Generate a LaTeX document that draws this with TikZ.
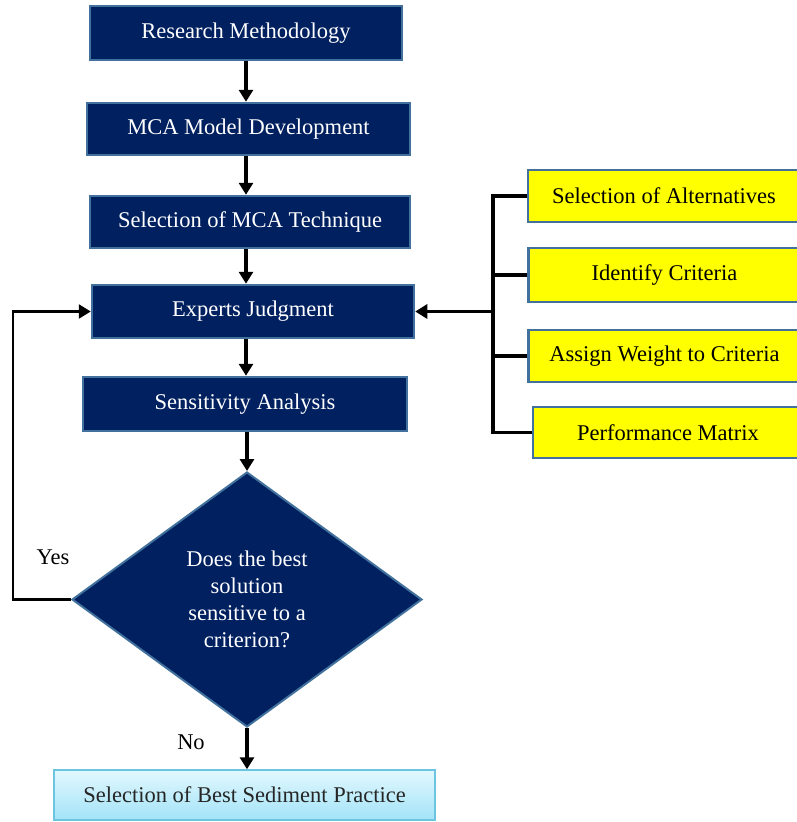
\documentclass[tikz,border=0pt]{standalone}
\usepackage{fontspec}
\setmainfont{Liberation Serif}
\usetikzlibrary{arrows.meta,shapes.geometric}
\definecolor{navy}{HTML}{002060}
\definecolor{edgeblue}{HTML}{41719C}
\definecolor{ltop}{HTML}{E2F8FE}
\definecolor{lbot}{HTML}{A3E3F8}
\definecolor{ledge}{HTML}{6BC5E0}
\definecolor{yel}{HTML}{FFFF00}
\begin{document}
\begin{tikzpicture}[x=1pt,y=-1pt,
  txt/.style={font=\fontsize{22.5}{27}\selectfont},
  navybox/.style={txt, draw=edgeblue, line width=2.5pt, fill=navy, text=white, inner sep=0pt},
  yelbox/.style={txt, draw=edgeblue, line width=2.5pt, fill=yel, text=black, inner sep=0pt, minimum width=272pt},
  arr/.style={line width=3.2pt, -{Triangle[length=12pt,width=14pt]}},
  bline/.style={line width=3.2pt},
  lbl/.style={txt, text=black, inner sep=0pt}]
\useasboundingbox (0,0) rectangle (797,822);
\coordinate (ax) at (246,0);
\coordinate (bx) at (493,0);
\coordinate (lx) at (13,0);
% main column
\node[navybox, minimum width=312pt, minimum height=54pt] (rm) at (246,33) {Research Methodology};
\node[navybox, minimum width=323pt, minimum height=52pt] (mca) at (248.5,129) {MCA Model Development};
\node[navybox, minimum width=320pt, minimum height=52pt] (sel) at (250,222) {Selection of MCA Technique};
\node[navybox, minimum width=322pt, minimum height=53pt] (ej) at (253,311.5) {Experts Judgment};
\node[navybox, minimum width=324pt, minimum height=54pt] (sa) at (245,404) {Sensitivity Analysis};
\node[navybox, line width=2pt, shape=diamond, aspect=1.37, minimum width=350pt, minimum height=255pt, align=center] (dia) at (247,599.5) {Does the best\\solution\\sensitive to a\\criterion?};
\node[txt, draw=ledge, line width=1.5pt, top color=ltop, bottom color=lbot, text=black!85, inner sep=0pt, minimum width=381pt, minimum height=50pt] (fin) at (244.5,795) {Selection of Best Sediment Practice};
% yellow boxes
\node[yelbox, minimum height=52pt] (alt) at (664,196) {Selection of Alternatives};
\node[yelbox, minimum height=54pt] (crit) at (664.5,275) {Identify Criteria};
\node[yelbox, minimum height=52pt] (wt) at (664.5,356) {Assign Weight to Criteria};
\node[yelbox, minimum height=51pt, minimum width=270pt] (pm) at (668,432.5) {Performance Matrix};
% labels
\node[lbl] (yes) at (53,557) {Yes};
\node[lbl] (no) at (191,742) {No};
% arrows
\draw[arr] (rm.south -| ax) -- (mca.north -| ax);
\draw[arr] (mca.south -| ax) -- (sel.north -| ax);
\draw[arr] (sel.south -| ax) -- (ej.north -| ax);
\draw[arr] (ej.south -| ax) -- (sa.north -| ax);
\draw[arr] (sa.south -| dia.north) -- (dia.north);
\draw[arr] (dia.south) -- (fin.north -| dia.south);
% bracket
\draw[bline] (alt.west) -- (alt.west -| bx) -- (pm.west -| bx) -- (pm.west);
\draw[bline] (crit.west) -- (crit.west -| bx);
\draw[bline] (wt.west) -- (wt.west -| bx);
\draw[arr] (ej.east -| bx) -- (ej.east);
% loop
\draw[arr, line width=2.5pt] (dia.west) -- (dia.west -| lx) -- (ej.west -| lx) -- (ej.west);
\end{tikzpicture}
\end{document}
